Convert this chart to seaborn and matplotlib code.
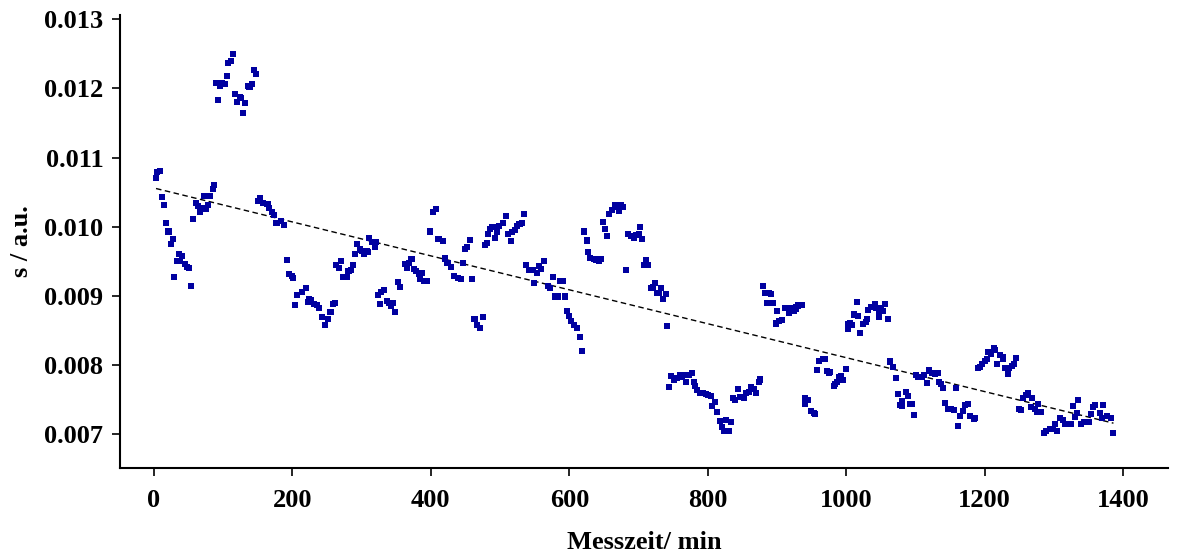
import numpy as np
import pandas as pd
import matplotlib
matplotlib.use("Agg")
import matplotlib.pyplot as plt
import seaborn as sns

# Measurement time in minutes
messzeit = [
    3, 5, 9, 12, 15, 18, 21, 24, 27, 29, 33, 36, 38, 41, 45, 48, 51, 53, 57, 61, 63, 66, 69, 72, 75, 78, 81, 85, 87,
    90, 93, 96, 98, 102, 105, 107, 111, 114, 117, 120, 124, 126, 129, 132, 136, 138, 141, 144, 147,
    150, 153, 158, 164, 166, 170, 173, 177, 184, 188, 192, 195, 199, 201, 204, 207, 214, 219, 222, 224, 227, 231,
    235, 239, 243, 247, 251, 255, 258, 261, 263, 267, 270, 273, 279, 281, 284, 288, 291, 293, 297, 301, 304, 307,
    309, 311, 315, 319, 321, 324, 327, 328, 332, 336, 340, 343, 345, 348, 352, 356, 362, 366, 368, 372, 375, 379,
    383, 384, 387, 390, 395, 399, 403, 407, 411, 417, 421, 424, 429, 433, 439, 444, 447, 449, 452, 457, 459, 463,
    466, 471, 475, 478, 481, 483, 486, 489, 493, 496, 499, 504, 508, 511, 516, 517, 522, 524, 528, 532, 534, 537,
    542, 548, 549, 553, 556, 559, 564, 569, 572, 577, 579, 583, 586, 591, 594, 597, 600, 603, 607, 611, 615, 618,
    621, 625, 627, 630, 635, 639, 643, 645, 648, 652, 655, 657, 661, 666, 669, 672, 674, 677, 682, 685, 689, 694,
    696, 700, 702, 705, 708, 711, 714, 718, 721, 724, 727, 730, 732, 735, 739, 741, 744, 747, 751, 756, 760, 763,
    766, 768, 773, 777, 780, 782, 785, 789, 793, 797, 801, 804, 806, 810, 814, 817, 820, 823, 826, 831, 833, 837,
    840, 843, 847, 852, 855, 859, 863, 867, 870, 874, 876, 880, 882, 886, 888, 892, 894, 898, 900, 903, 907, 912,
    916, 917, 922, 924, 927, 928, 931, 936, 940, 941, 945, 949, 953, 955, 958, 960, 966, 970, 972, 975, 977, 982,
    984, 987, 989, 993, 995, 999, 1002, 1003, 1006, 1008, 1011, 1015, 1017, 1020, 1024, 1028, 1030, 1032, 1036,
    1041, 1043, 1047, 1048, 1050, 1053, 1056, 1060, 1063, 1067, 1072, 1075, 1077, 1080, 1081, 1087, 1089, 1092,
    1095, 1098, 1101, 1104, 1109, 1113, 1116, 1120, 1124, 1128, 1132, 1134, 1137, 1140, 1143, 1147, 1152, 1156,
    1158, 1161, 1165, 1168, 1171, 1176, 1179, 1184, 1186, 1191, 1193, 1196, 1200, 1203, 1205, 1209, 1213, 1215,
    1218, 1222, 1226, 1227, 1230, 1233, 1235, 1239, 1243, 1245, 1250, 1252, 1255, 1260, 1263, 1267, 1269, 1272,
    1275, 1277, 1282, 1285, 1289, 1294, 1299, 1302, 1305, 1309, 1313, 1316, 1321, 1325, 1327, 1330, 1333, 1335,
    1339, 1344, 1350, 1353, 1357, 1360, 1366, 1369, 1371, 1376, 1382, 1386,
]

# s / a.u.
s_values = [
    0.01071, 0.01079, 0.01081, 0.01043, 0.01031, 0.01006, 0.00993, 0.00975, 0.00982, 0.00927, 0.00951, 0.00960,
    0.00951, 0.00958, 0.00946, 0.00942, 0.00940, 0.00914, 0.01011, 0.01034, 0.01030, 0.01021, 0.01027, 0.01045,
    0.01025, 0.01032, 0.01045, 0.01054, 0.01060,
    0.01208, 0.01183, 0.01204, 0.01208, 0.01206, 0.01218, 0.01237, 0.01240, 0.01250, 0.01192, 0.01180, 0.01188,
    0.01186, 0.01165, 0.01179, 0.01203, 0.01202, 0.01206, 0.01227, 0.01221,
    0.01037, 0.01042, 0.01034, 0.01033, 0.01027, 0.01021, 0.01017, 0.01005, 0.01008, 0.01003, 0.00952, 0.00931,
    0.00928, 0.00926, 0.00887, 0.00901, 0.00905, 0.00911, 0.00891, 0.00896, 0.00894, 0.00888, 0.00887, 0.00882,
    0.00870, 0.00858, 0.00866, 0.00877, 0.00888, 0.00889, 0.00944, 0.00940, 0.00951, 0.00927, 0.00927, 0.00936,
    0.00938, 0.00944, 0.00961, 0.00975, 0.00967, 0.00965, 0.00960, 0.00965, 0.00964, 0.00983, 0.00978, 0.00971,
    0.00978, 0.00901, 0.00888, 0.00906, 0.00909, 0.00893, 0.00890, 0.00885, 0.00890, 0.00877, 0.00920, 0.00913,
    0.00946, 0.00941, 0.00948, 0.00953, 0.00939, 0.00936, 0.00932, 0.00925, 0.00933, 0.00922, 0.00922, 0.00993,
    0.01021, 0.01026, 0.00982, 0.00979, 0.00954, 0.00948, 0.00942, 0.00928, 0.00926, 0.00925, 0.00948, 0.00968,
    0.00971, 0.00981, 0.00924, 0.00867, 0.00858, 0.00854, 0.00870, 0.00974, 0.00976, 0.00990, 0.00997, 0.01000,
    0.00984, 0.00992, 0.01001, 0.01006, 0.01015, 0.00990, 0.00979, 0.00992, 0.00995, 0.01001, 0.01004, 0.01005,
    0.01018, 0.00944, 0.00938, 0.00937, 0.00918, 0.00933, 0.00943, 0.00939, 0.00950, 0.00914, 0.00912, 0.00927,
    0.00899, 0.00899, 0.00921, 0.00921, 0.00899, 0.00878, 0.00871, 0.00863, 0.00858, 0.00854, 0.00841, 0.00820,
    0.00993, 0.00980, 0.00963, 0.00955, 0.00953, 0.00952, 0.00951, 0.00953, 0.01007, 0.00996, 0.00987, 0.01019,
    0.01024, 0.01031, 0.01029, 0.01022, 0.01032, 0.01028, 0.00937, 0.00990, 0.00986, 0.00984, 0.00988, 0.00990,
    0.01000, 0.00982, 0.00945, 0.00952, 0.00944, 0.00912, 0.00913, 0.00918, 0.00904, 0.00904, 0.00911, 0.00896,
    0.00902, 0.00856, 0.00768, 0.00784, 0.00779, 0.00781, 0.00786, 0.00783, 0.00785, 0.00776, 0.00786, 0.00788,
    0.00775, 0.00769, 0.00764, 0.00760, 0.00759, 0.00758, 0.00756, 0.00755, 0.00740, 0.00747, 0.00732, 0.00719,
    0.00710, 0.00704, 0.00721, 0.00704, 0.00718, 0.00752, 0.00749, 0.00765, 0.00754, 0.00752, 0.00759, 0.00761,
    0.00768, 0.00765, 0.00760, 0.00776, 0.00779, 0.00914, 0.00904, 0.00890, 0.00904, 0.00902, 0.00889, 0.00860,
    0.00878, 0.00863, 0.00865, 0.00883, 0.00883, 0.00875, 0.00883, 0.00878, 0.00881, 0.00884, 0.00886, 0.00887,
    0.00743, 0.00752, 0.00750, 0.00734, 0.00731, 0.00729, 0.00793, 0.00806, 0.00808, 0.00808, 0.00791, 0.00788,
    0.00790, 0.00769, 0.00773, 0.00776, 0.00783, 0.00784, 0.00778, 0.00794, 0.00859, 0.00852, 0.00860, 0.00858,
    0.00873, 0.00891, 0.00871, 0.00846, 0.00859, 0.00862, 0.00867, 0.00880, 0.00884, 0.00888, 0.00882, 0.00878,
    0.00870, 0.00882, 0.00878, 0.00888, 0.00867, 0.00805, 0.00797, 0.00781, 0.00758, 0.00742, 0.00748, 0.00740,
    0.00761, 0.00755, 0.00743, 0.00743, 0.00727, 0.00785, 0.00782, 0.00783, 0.00785, 0.00774, 0.00792, 0.00789,
    0.00787, 0.00788, 0.00776, 0.00772, 0.00767, 0.00745, 0.00737, 0.00737, 0.00735, 0.00767, 0.00712, 0.00726,
    0.00733, 0.00742, 0.00744, 0.00726, 0.00722, 0.00723, 0.00795, 0.00797, 0.00801, 0.00806, 0.00808, 0.00819,
    0.00816, 0.00825, 0.00821, 0.00801, 0.00814, 0.00811, 0.00808, 0.00796, 0.00787, 0.00796, 0.00798, 0.00802,
    0.00810, 0.00737, 0.00735, 0.00752, 0.00756, 0.00760, 0.00739, 0.00752, 0.00736, 0.00732, 0.00743, 0.00732,
    0.00702, 0.00705, 0.00707, 0.00708, 0.00714, 0.00705, 0.00723, 0.00720, 0.00715, 0.00714, 0.00715, 0.00740,
    0.00725, 0.00730, 0.00749, 0.00715, 0.00718, 0.00718, 0.00729, 0.00739, 0.00742, 0.00731, 0.00723, 0.00742,
    0.00726, 0.00724, 0.00701,
]

x_ticks = [0, 200, 400, 600, 800, 1000, 1200, 1400]
y_ticks = [0.007, 0.008, 0.009, 0.010, 0.011, 0.012, 0.013]
x_label = "Messzeit/ min"
y_label = "s / a.u."

df = pd.DataFrame({"t": messzeit, "s": s_values})

sns.set_theme(style="ticks")
plt.rcParams["font.family"] = ["Liberation Serif", "DejaVu Serif"]
plt.rcParams["font.weight"] = "bold"
plt.rcParams["axes.labelcolor"] = "black"
plt.rcParams["text.color"] = "black"

fig = plt.figure(figsize=(11.79, 5.53), dpi=100)
ax = fig.add_axes([0.1018, 0.1537, 0.889, 0.819])

sns.scatterplot(data=df, x="t", y="s", ax=ax, marker="s", s=19,
                color="#0000A0", edgecolor="none", linewidth=0, zorder=3)
sns.regplot(data=df, x="t", y="s", ax=ax, scatter=False, ci=None,
            line_kws=dict(color="black", linewidth=1.0, linestyle=(0, (4, 2.5))))

ax.set_xlim(-49, 1465)
ax.set_ylim(0.00651, 0.01306)
ax.set_xticks(x_ticks)
ax.set_yticks(y_ticks)
ax.set_xticklabels([str(v) for v in x_ticks])
ax.set_yticklabels([f"{v:.3f}" for v in y_ticks])

for sp in ["top", "right"]:
    ax.spines[sp].set_visible(False)
for sp in ["left", "bottom"]:
    ax.spines[sp].set_linewidth(1.5)
    ax.spines[sp].set_color("black")

ax.tick_params(axis="both", direction="out", length=6, width=1.2,
               labelsize=19, colors="black")
ax.tick_params(axis="y", pad=6)
ax.tick_params(axis="x", pad=9)
for lab in ax.get_xticklabels() + ax.get_yticklabels():
    lab.set_fontweight("bold")

ax.set_xlabel(x_label, fontsize=19, fontweight="bold", labelpad=14, color="black")
ax.set_ylabel(y_label, fontsize=19, fontweight="bold", labelpad=8, color="black")

fig.savefig("out.png", dpi=100)
